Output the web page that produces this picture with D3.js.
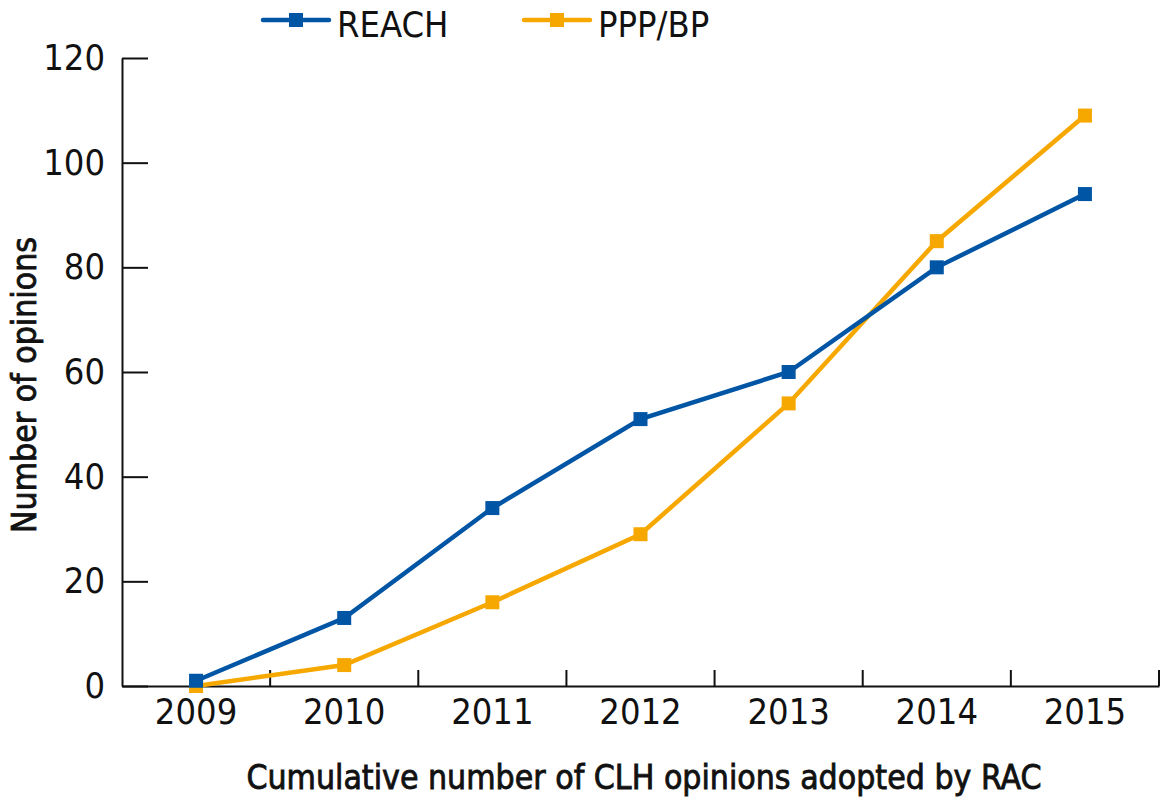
<!DOCTYPE html>
<html>
<head>
<meta charset="utf-8">
<script src="https://cdn.jsdelivr.net/npm/d3@7"></script>
<style>
  body { margin: 0; background: #fff; }
  svg { display: block; }
  text { font-family: "DejaVu Sans Condensed", "DejaVu Sans", sans-serif; fill: #111; }
</style>
</head>
<body>
<script>
  var years = ["2009", "2010", "2011", "2012", "2013", "2014", "2015"];
  var reach = [1, 13, 34, 51, 60, 80, 94];
  var pppbp = [0, 4, 16, 29, 54, 85, 109];
  var yTicks = [0, 20, 40, 60, 80, 100, 120];
  var seriesNames = ["REACH", "PPP/BP"];
  var seriesColors = ["#0055a5", "#f6a800"];

  var settings = {
    width: 1161,
    height: 799,
    left: 122,
    right: 1159,
    top: 58,
    bottom: 686
  };

  var svg = d3.select("body").append("svg")
      .attr("width", settings.width)
      .attr("height", settings.height);

  var x = d3.scaleBand().domain(years).range([settings.left, settings.right]).padding(0);
  var y = d3.scaleLinear().domain([0, 120]).range([settings.bottom, settings.top]);

  // y axis, ticks pointing inward
  var yAxis = svg.append("g")
      .attr("transform", "translate(" + settings.left + ",0)")
      .call(d3.axisLeft(y).tickValues(yTicks).tickSizeInner(-26).tickSizeOuter(0).tickPadding(17));
  yAxis.select(".domain").attr("stroke", "#111").attr("stroke-width", 2);
  yAxis.selectAll(".tick line").attr("stroke", "#111").attr("stroke-width", 2);
  yAxis.selectAll(".tick text").style("font-size", "36px").attr("fill", "#111");

  // x axis: labels at band centres, ticks at band boundaries
  var xAxis = svg.append("g")
      .attr("transform", "translate(0," + settings.bottom + ")")
      .call(d3.axisBottom(x).tickSize(0).tickPadding(12));
  xAxis.select(".domain").attr("stroke", "#111").attr("stroke-width", 2);
  xAxis.selectAll(".tick text").style("font-size", "36px").attr("fill", "#111");

  var bounds = years.slice(1).map(function(d) { return x(d); }).concat([x.range()[1]]);
  xAxis.selectAll(".bound").data(bounds).enter()
    .append("line")
      .attr("x1", function(d) { return d; })
      .attr("x2", function(d) { return d; })
      .attr("y1", 0)
      .attr("y2", -16)
      .attr("stroke", "#111")
      .attr("stroke-width", 2);

  var data = [reach, pppbp];
  var cx = function(d, i) { return x(years[i]) + x.bandwidth() / 2; };

  var line = d3.line()
      .x(function(d, i) { return cx(d, i); })
      .y(function(d) { return y(d); });

  // PPP/BP drawn first so REACH sits on top at 2009
  [1, 0].forEach(function(s) {
    var g = svg.append("g");
    g.append("path")
      .attr("d", line(data[s]))
      .attr("fill", "none")
      .attr("stroke", seriesColors[s])
      .attr("stroke-width", 4.5);
    g.selectAll("rect").data(data[s]).enter()
      .append("rect")
        .attr("x", function(d, i) { return cx(d, i) - 7; })
        .attr("y", function(d) { return y(d) - 7; })
        .attr("width", 14)
        .attr("height", 14)
        .attr("fill", seriesColors[s]);
  });

  // legend
  var legendX = [263, 524];
  var legend = svg.selectAll(".legend").data(seriesNames).enter()
    .append("g")
      .attr("transform", function(d, i) { return "translate(" + legendX[i] + ",20)"; });
  legend.append("line")
      .attr("x1", 0).attr("x2", 66)
      .attr("stroke", function(d, i) { return seriesColors[i]; })
      .attr("stroke-width", 4.5)
      .attr("stroke-linecap", "round");
  legend.append("rect")
      .attr("x", 26).attr("y", -7).attr("width", 14).attr("height", 14)
      .attr("fill", function(d, i) { return seriesColors[i]; });
  legend.append("text")
      .attr("x", 74).attr("y", 17)
      .style("font-size", "36px")
      .text(function(d) { return d; });

  // axis titles
  svg.append("text")
      .attr("x", 644).attr("y", 789)
      .attr("text-anchor", "middle")
      .style("font-size", "33.5px")
      .attr("stroke", "#111")
      .attr("stroke-width", 0.8)
      .text("Cumulative number of CLH opinions adopted by RAC");

  svg.append("text")
      .attr("transform", "translate(36,385) rotate(-90)")
      .attr("text-anchor", "middle")
      .style("font-size", "33.5px")
      .attr("stroke", "#111")
      .attr("stroke-width", 0.8)
      .text("Number of opinions");
</script>
</body>
</html>
